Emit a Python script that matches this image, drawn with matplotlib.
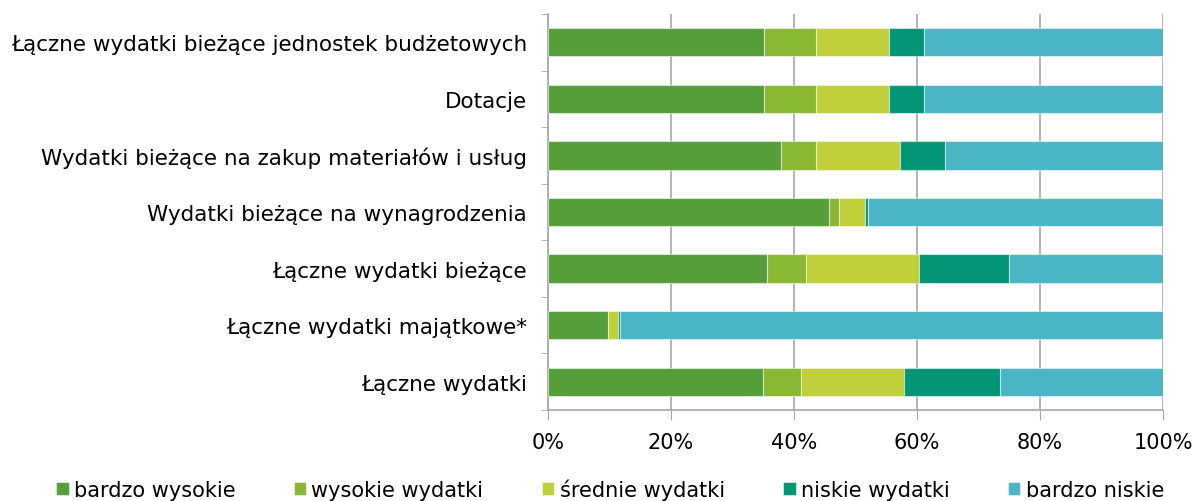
import numpy as np
import matplotlib.pyplot as plt

# kategorie (od góry do dołu)
categories = [
    "Łączne wydatki bieżące jednostek budżetowych",
    "Dotacje",
    "Wydatki bieżące na zakup materiałów i usług",
    "Wydatki bieżące na wynagrodzenia",
    "Łączne wydatki bieżące",
    "Łączne wydatki majątkowe*",
    "Łączne wydatki",
]

series_names = ["bardzo wysokie", "wysokie wydatki", "średnie wydatki",
                "niskie wydatki", "bardzo niskie"]

# udziały w %
bardzo_wysokie = [35.2, 35.2, 37.9, 45.7, 35.6, 9.7, 34.9]
wysokie = [8.4, 8.4, 5.7, 1.6, 6.4, 0.1, 6.3]
srednie = [11.8, 11.8, 13.7, 4.2, 18.4, 1.6, 16.7]
niskie = [5.7, 5.7, 7.2, 0.6, 14.6, 0.3, 15.6]
bardzo_niskie = [38.9, 38.9, 35.5, 47.9, 25.0, 88.3, 26.5]

colors = ["#559e3a", "#8ab833", "#c0cf3a", "#029676", "#4ab5c4"]

plt.rcParams['font.family'] = ['DejaVu Sans']

fig = plt.figure(figsize=(12, 5.02), dpi=100)
ax = fig.add_axes([548/1200, 1 - 411/502, 615/1200, 396/502])

y = np.arange(len(categories))
left = np.zeros(len(categories))
data = [bardzo_wysokie, wysokie, srednie, niskie, bardzo_niskie]
for vals, name, col in zip(data, series_names, colors):
    vals = np.array(vals)
    ax.barh(y, vals, left=left, height=0.5, color=col, label=name,
            edgecolor=(1, 1, 1, 0.5), linewidth=0.8, zorder=3)
    left += vals

ax.set_xlim(0, 100)
ax.set_ylim(len(categories) - 0.5, -0.5)
ax.set_xticks(np.arange(0, 101, 20))
ax.set_xticklabels([f"{v}%" for v in range(0, 101, 20)], fontsize=15)
ax.set_yticks(y)
ax.set_yticklabels(categories, fontsize=15.5)
ax.tick_params(axis='y', length=0, pad=15)
ax.tick_params(axis='x', length=7, color='#a6a6a6', pad=9)

# separatory kategorii na osi y
ax.set_yticks(np.arange(-0.5, len(categories)), minor=True)
ax.tick_params(axis='y', which='minor', length=5, color='#a6a6a6')

ax.grid(axis='x', color='#a6a6a6', linewidth=1.2, zorder=0)
for s in ['top', 'right']:
    ax.spines[s].set_visible(False)
for s in ['left', 'bottom']:
    ax.spines[s].set_color('#a6a6a6')
    ax.spines[s].set_linewidth(1.2)

fig.legend(loc='center', bbox_to_anchor=(610/1200, 1 - 490/502), ncol=5,
           frameon=False, fontsize=15, handlelength=0.6, handleheight=0.6,
           handletextpad=0.25, columnspacing=2.8, borderaxespad=0)

fig.savefig("out.png", dpi=100)
